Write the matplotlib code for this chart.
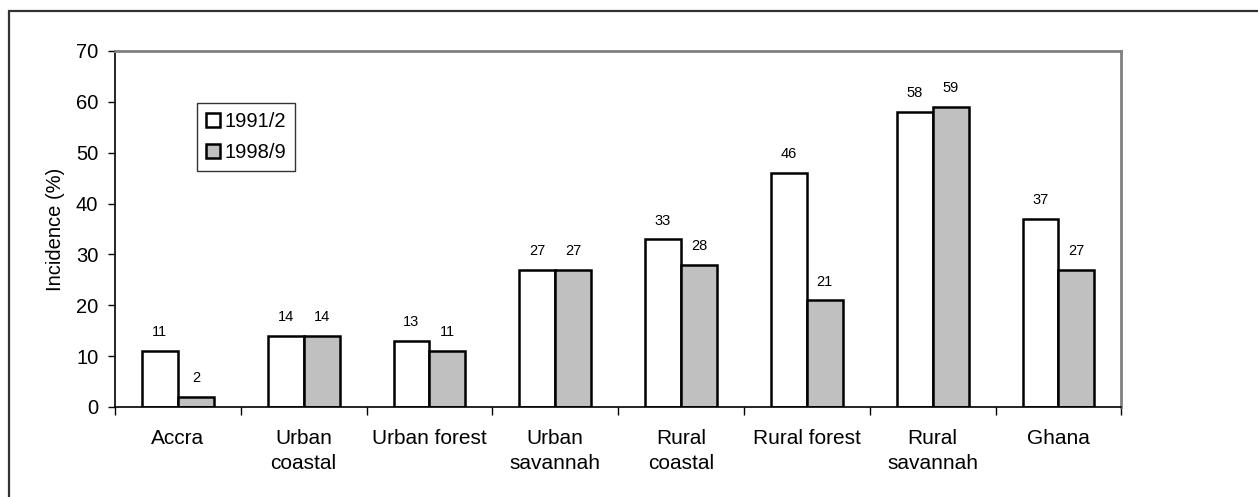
import matplotlib.pyplot as plt
from matplotlib.patches import Rectangle
import numpy as np

plt.rcParams['font.family'] = ['Liberation Sans', 'DejaVu Sans']

# poverty incidence by locality
regions = ['Accra', 'Urban\ncoastal', 'Urban forest', 'Urban\nsavannah',
           'Rural\ncoastal', 'Rural forest', 'Rural\nsavannah', 'Ghana']
inc_1991 = [11, 14, 13, 27, 33, 46, 58, 37]
inc_1998 = [2, 14, 11, 27, 28, 21, 59, 27]
series_names = ['1991/2', '1998/9']

fig = plt.figure(figsize=(12.58, 4.97), dpi=100)
ax = fig.add_axes([0.0914, 0.1811, 0.8, 0.7163])

# outer frame around the whole chart
fig.patches.append(Rectangle((9 / 1258, -0.1), 1.2, (497 - 11) / 497 + 0.1,
                             transform=fig.transFigure, fill=False,
                             edgecolor='#333333', linewidth=1.6))

x = np.arange(len(regions))
w = 0.286
b1 = ax.bar(x - w / 2, inc_1991, w, color='white', edgecolor='black',
            linewidth=1.8, label=series_names[0])
b2 = ax.bar(x + w / 2, inc_1998, w, color='#c0c0c0', edgecolor='black',
            linewidth=1.8, label=series_names[1])

for bars, vals in [(b1, inc_1991), (b2, inc_1998)]:
    for r, v in zip(bars, vals):
        ax.annotate(str(v), (r.get_x() + r.get_width() / 2, v),
                    xytext=(0, 10.5), textcoords='offset points',
                    ha='center', va='baseline', fontsize=10.5)

ax.set_xlim(-0.5, len(regions) - 0.5)
ax.set_ylim(0, 70)
ax.set_yticks(range(0, 71, 10))
ax.tick_params(axis='y', direction='out', length=5, width=1, pad=7,
               labelsize=14.5)

# boundary ticks between groups, names centred under each group
ax.set_xticks(np.arange(-0.5, len(regions), 1))
ax.set_xticklabels([])
ax.set_xticks(x, minor=True)
ax.set_xticklabels(regions, minor=True, fontsize=15, linespacing=1.4)
ax.tick_params(axis='x', which='major', direction='out', length=6, width=1)
ax.tick_params(axis='x', which='minor', length=0, pad=16)

ax.set_ylabel('Incidence (%)', fontsize=14.5, labelpad=8)

for s in ['left', 'bottom']:
    ax.spines[s].set_color('black')
    ax.spines[s].set_linewidth(1.2)
for s in ['top', 'right']:
    ax.spines[s].set_color('#808080')
    ax.spines[s].set_linewidth(2)

leg = ax.legend(loc='upper left', bbox_to_anchor=(0.0815, 0.854),
                borderaxespad=0, fontsize=14.5, fancybox=False, shadow=False,
                handlelength=0.7, handleheight=0.7, handletextpad=0.2,
                labelspacing=0.6, borderpad=0.45)
leg.get_frame().set_edgecolor('black')
leg.get_frame().set_linewidth(1)

fig.savefig('out.png', dpi=100)
